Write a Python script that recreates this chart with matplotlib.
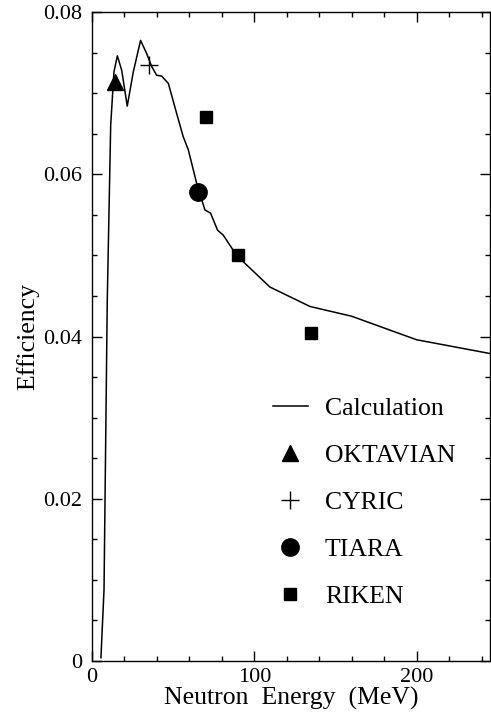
import matplotlib
matplotlib.use("Agg")
import matplotlib.pyplot as plt
from matplotlib.ticker import MultipleLocator

plt.rcParams["font.family"] = ["Liberation Serif", "DejaVu Serif"]

# calculated efficiency curve
calc_e = [5.5, 7.4, 9.4, 11.5, 13.5, 15.6, 18.3, 21.7, 25.4, 29.9, 33.6, 36.7,
          39.8, 42.9, 47.0, 52.1, 56.2, 59.3, 64.4, 69.5, 73.0, 77.3, 80.8,
          89.0, 109.5, 134.2, 159.8, 199.8, 245.0]
calc_eff = [0.0004, 0.0088, 0.0445, 0.066, 0.0726, 0.0746, 0.0728, 0.0684,
            0.0726, 0.0765, 0.0749, 0.0733, 0.0722, 0.0721, 0.0712, 0.0675,
            0.0646, 0.0630, 0.0589, 0.0556, 0.0552, 0.0531, 0.0525, 0.0500,
            0.0461, 0.0437, 0.0425, 0.0396, 0.0379]

# measurements
oktavian_e, oktavian_eff = [14.1], [0.0714]
cyric_e, cyric_eff = [35.0], [0.0735]
tiara_e, tiara_eff = [65.0], [0.0578]
riken_e = [70.0, 90.0, 135.0]
riken_eff = [0.0671, 0.0500, 0.0404]

fig = plt.figure(figsize=(4.91, 7.18), dpi=100)
ax = fig.add_axes([92 / 491, 57 / 718, 398 / 491, 649 / 718])

ax.plot(calc_e, calc_eff, color="black", lw=1.1, label="Calculation")
ax.plot(oktavian_e, oktavian_eff, ls="none", marker="^", ms=11, color="black",
        label="OKTAVIAN")
ax.plot(cyric_e, cyric_eff, ls="none", marker="+", ms=13, mew=1.0,
        color="black", label="CYRIC")
ax.plot(tiara_e, tiara_eff, ls="none", marker="o", ms=12.5, color="black",
        label="TIARA")
ax.plot(riken_e, riken_eff, ls="none", marker="s", ms=9, color="black",
        label="RIKEN")

ax.set_xlim(0, 245)
ax.set_ylim(0, 0.08)
ax.xaxis.set_minor_locator(MultipleLocator(20))
ax.yaxis.set_minor_locator(MultipleLocator(0.005))
ax.set_xticks([0, 100, 200])
ax.set_xticklabels(["0", "100", "200"])
ax.set_yticks([0, 0.02, 0.04, 0.06, 0.08])
ax.set_yticklabels(["0", "0.02", "0.04", "0.06", "0.08"])
ax.tick_params(which="both", direction="in", top=True, right=True,
               labelsize=16, width=1.0)
ax.tick_params(which="major", length=7)
ax.tick_params(which="minor", length=3.6)
ax.tick_params(axis="x", pad=5)
ax.tick_params(axis="y", pad=7)
for s in ax.spines.values():
    s.set_linewidth(1.0)

ax.set_xlabel("Neutron  Energy  (MeV)", fontsize=18.5, labelpad=0)
ax.set_ylabel("Efficiency", fontsize=18.5, labelpad=3)

ax.legend(loc="upper left", bbox_to_anchor=(273 / 491, 1 - 397 / 718),
          bbox_transform=fig.transFigure, frameon=False, fontsize=18.5,
          handlelength=1.36, handletextpad=0.66, labelspacing=0.93,
          borderpad=0, borderaxespad=0)

fig.savefig("out.png", dpi=100)
